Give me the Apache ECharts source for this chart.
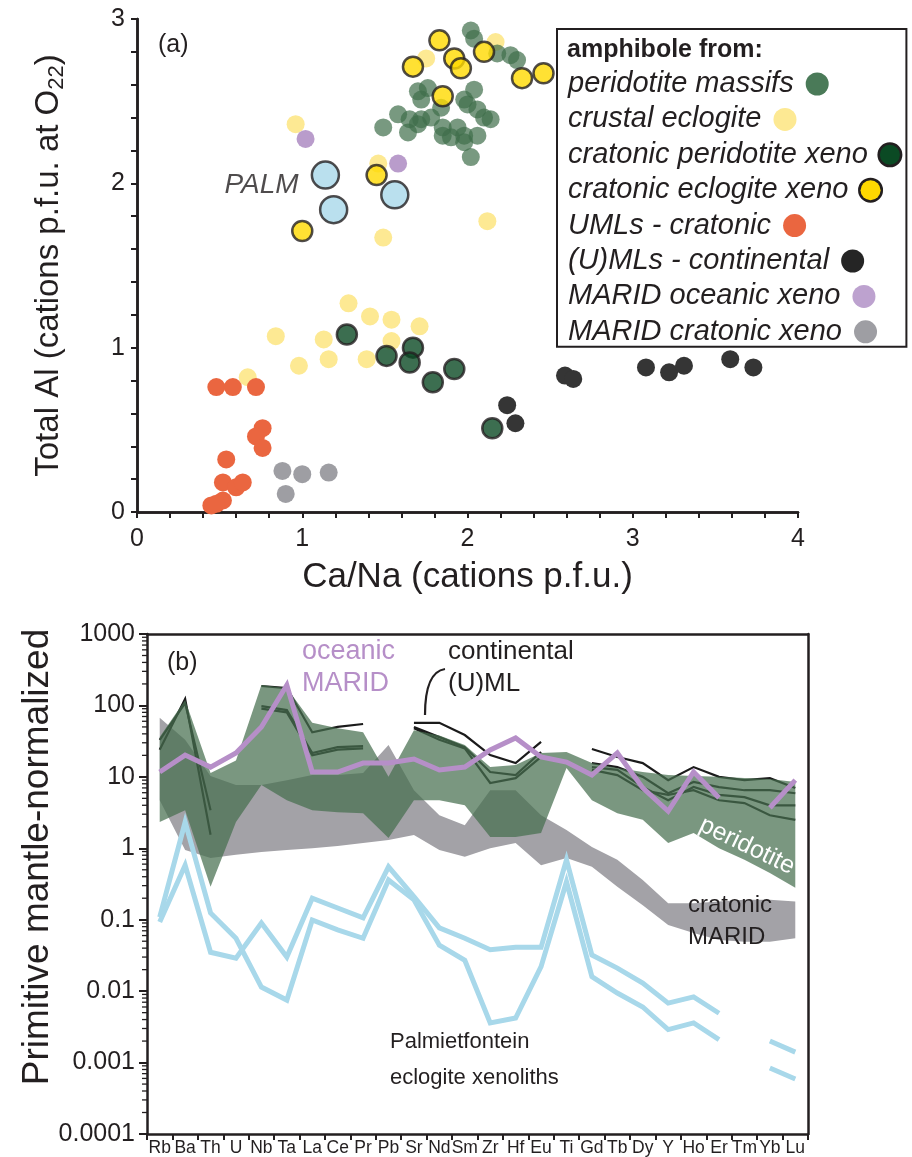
<!DOCTYPE html>
<html>
<head>
<meta charset="utf-8">
<script src="https://cdn.jsdelivr.net/npm/echarts@6/dist/echarts.min.js"></script>
<style>
  html, body { margin: 0; padding: 0; background: #fff; }
  #chart { width: 912px; height: 1157px; }
</style>
</head>
<body>
<div id="chart"></div>
<script>
// ---------- (a) amphibole Ca/Na vs total Al ----------
const peridotiteMassifs = [[2.02,2.93],[2.04,2.88],[2.18,2.79],[2.26,2.78],[2.30,2.75],[1.70,2.56],[1.76,2.58],[1.72,2.51],[2.04,2.57],[1.98,2.51],[2.00,2.48],[2.06,2.45],[2.10,2.40],[2.14,2.39],[1.58,2.42],[1.65,2.39],[1.72,2.39],[1.78,2.40],[1.84,2.46],[1.49,2.34],[1.64,2.31],[1.85,2.34],[1.94,2.34],[1.90,2.28],[1.98,2.29],[2.06,2.29],[1.98,2.25],[2.02,2.16],[1.85,2.29],[1.70,2.36]];
const crustalEclogite = [[1.75,2.76],[2.17,2.86],[0.96,2.36],[1.46,2.12],[2.12,1.77],[1.49,1.67],[1.28,1.27],[1.41,1.19],[1.54,1.17],[1.71,1.13],[0.84,1.07],[1.13,1.05],[1.54,1.04],[1.16,0.93],[0.98,0.89],[1.39,0.93],[0.67,0.82]];
const cratonicPeridotiteXeno = [[1.27,1.08],[1.51,0.95],[1.67,1.00],[1.65,0.91],[1.79,0.79],[1.92,0.87],[2.15,0.51]];
const cratonicEclogiteXeno = [[1.83,2.87],[1.92,2.76],[1.96,2.70],[1.67,2.71],[2.10,2.80],[2.33,2.64],[2.46,2.67],[1.85,2.53],[1.45,2.05],[1.00,1.71]];
const umlsCratonic = [[0.48,0.76],[0.58,0.76],[0.72,0.76],[0.76,0.51],[0.72,0.46],[0.76,0.39],[0.54,0.32],[0.52,0.18],[0.60,0.15],[0.64,0.18],[0.52,0.07],[0.45,0.04],[0.48,0.05]];
const umlsContinental = [[2.24,0.65],[2.29,0.54],[2.59,0.83],[2.64,0.81],[3.08,0.88],[3.22,0.85],[3.31,0.89],[3.59,0.93],[3.73,0.88]];
const maridOceanicXeno = [[1.02,2.27],[1.58,2.12]];
const maridCratonicXeno = [[0.88,0.25],[1.00,0.23],[1.16,0.24],[0.90,0.11]];
const palmEclogite = [[1.14,2.05],[1.19,1.84],[1.56,1.93]];

// ---------- (b) primitive-mantle-normalised trace elements ----------
const elements = ['Rb','Ba','Th','U','Nb','Ta','La','Ce','Pr','Pb','Sr','Nd','Sm','Zr','Hf','Eu','Ti','Gd','Tb','Dy','Y','Ho','Er','Tm','Yb','Lu'];
const yTickValues = [0.0001, 0.001, 0.01, 0.1, 1, 10, 100, 1000];

const peridotiteUpper = [36,119,11.3,17,193,175,57,48,42,10,45,38,28,13.7,14.7,21.6,22.3,15.6,13.3,11.7,10.6,10.3,10,9.6,9.3,8.5];
const peridotiteLower = [2.33,3.4,0.29,2.33,7.7,4.7,3.4,3.2,3.1,1.39,4.7,4.7,4.0,1.44,1.44,1.64,13.3,4.7,3.1,2.5,1.19,1.64,1.0,0.69,0.45,0.28];
const cratonicMaridUpper = [67,33,10.3,7.7,7.7,9.0,10.6,10.6,11.3,28,6.5,2.9,2.1,6.5,6.5,2.9,1.8,1.04,0.69,0.36,0.17,0.17,0.18,0.19,0.19,0.18];
const cratonicMaridLower = [4.7,0.95,0.73,0.81,0.89,0.95,1.0,1.08,1.19,1.31,1.53,0.95,0.76,1.0,1.19,0.58,0.73,0.55,0.29,0.16,0.084,0.065,0.052,0.049,0.049,0.055];

const oceanicMarid = [11.7,20.2,13.7,21.6,50,193,11.7,11.7,15.6,15.6,17.8,12.5,13.7,23.8,35,19,16.1,10.6,21.6,7.0,3.3,11.7,5.1,null,3.7,9.0];

const continentalUml = [
  [24,123,1.55,null,187,175,42,50,55,null,57,57,38.5,20.2,15.6,30.8,null,24.5,19,15.6,9.0,13.7,10,9,9.6,7.0],
  [33,108,3.4,null,98,86,21.6,26,27,null,50,36,26,11.7,10.6,22.3,null,15.6,13.7,10,5.9,8.5,7.2,6.5,6.5,5.9],
  [null,null,null,null,90,80,20,24,25,null,48,33,25,8.2,9.6,19,null,13.7,12.5,7.2,4.7,7.2,5.6,5.2,4.0,4.0],
  [null,null,null,null,null,null,null,null,null,null,null,null,null,null,null,null,null,12.5,10.6,6.5,5.6,6.5,4.7,4.3,2.9,2.5]
];

const palmietfontein = [
  [0.109,2.33,0.124,0.055,0.0114,0.0075,0.099,0.072,0.055,0.36,0.19,0.044,0.027,0.0036,0.0042,0.022,0.34,0.016,0.0094,0.006,0.0029,0.0036,0.0021,null,0.00084,0.00059],
  [0.093,0.58,0.035,0.029,0.090,0.030,0.20,0.146,0.106,0.55,0.21,0.077,0.055,0.038,0.041,0.041,0.69,0.032,0.021,0.013,0.0068,0.0083,0.0049,null,0.0020,0.0014]
];

const FONT = '"Liberation Sans", Arial, Helvetica, sans-serif';
const INK = '#231f20';

// element labels use a narrow face when it is installed
function hasFont(name) {
  const ctx = document.createElement('canvas').getContext('2d');
  ctx.font = '40px monospace';
  const a = ctx.measureText('RbBaThNbTaLaCe').width;
  ctx.font = '40px "' + name + '", monospace';
  return Math.abs(ctx.measureText('RbBaThNbTaLaCe').width - a) > 0.5;
}
const narrow = hasFont('Liberation Sans Narrow');
const elementLabelFont = narrow
  ? { fontFamily: '"Liberation Sans Narrow", sans-serif', fontSize: 20 }
  : { fontFamily: FONT, fontSize: 17.5 };

const chart = echarts.init(document.getElementById('chart'), null, { renderer: 'canvas' });

function scatter(name, data, color, opts = {}) {
  return Object.assign({
    name, type: 'scatter', xAxisIndex: 0, yAxisIndex: 0, data,
    symbol: 'circle', symbolSize: 18,
    itemStyle: { color, opacity: 1 },
    emphasis: { disabled: true }
  }, opts);
}

// filled envelope between an upper and lower curve, drawn on the log axis
function envelope(name, upper, lower, fill, opacity, z) {
  return {
    name, type: 'custom', xAxisIndex: 2, yAxisIndex: 2, z, silent: true, clip: true,
    data: [[0, upper[0]]],
    renderItem(params, api) {
      const pts = [];
      for (let i = 0; i < upper.length; i++) pts.push(api.coord([i, upper[i]]));
      for (let i = lower.length - 1; i >= 0; i--) pts.push(api.coord([i, lower[i]]));
      return { type: 'polygon', shape: { points: pts }, style: { fill, opacity } };
    }
  };
}

function profile(name, data, color, width, z) {
  return {
    name, type: 'line', xAxisIndex: 2, yAxisIndex: 2, data, z,
    symbol: 'none', connectNulls: false, silent: true,
    lineStyle: { color, width, join: 'miter', cap: 'butt' }
  };
}

// log minor ticks (2..9 within each decade) on the left axis
const minorTickValues = [];
for (let e = -4; e < 3; e++) for (let k = 2; k <= 9; k++) minorTickValues.push(k * Math.pow(10, e));

const symbolStyles = {
  'peridotite massifs': { color: '#4a7a58' },
  'crustal eclogite': { color: '#fde993' },
  'cratonic peridotite xeno': { color: '#0b4a24', border: true },
  'cratonic eclogite xeno': { color: '#ffd900', border: true },
  'UMLs - cratonic': { color: '#ea6640' },
  '(U)MLs - continental': { color: '#252525' },
  'MARID oceanic xeno': { color: '#bda2cf' },
  'MARID cratonic xeno': { color: '#9e9ea3' }
};
const legendNames = Object.keys(symbolStyles);
const legendRich = { s: { width: 4, lineHeight: 30 } };
legendNames.forEach((n, i) => {
  const s = symbolStyles[n];
  legendRich['d' + i] = {
    width: s.border ? 20 : 23, height: s.border ? 20 : 23, borderRadius: 12,
    backgroundColor: s.color,
    borderColor: s.border ? INK : 'transparent', borderWidth: s.border ? 2.5 : 0,
    lineHeight: 30
  };
});

const series = [
  scatter('crustal eclogite', crustalEclogite, '#fde993', { z: 2 }),
  scatter('peridotite massifs', peridotiteMassifs, '#3f6e4a', { z: 3, itemStyle: { color: '#3f6e4a', opacity: 0.7 } }),
  scatter('UMLs - cratonic', umlsCratonic, '#ea6640', { z: 3 }),
  scatter('(U)MLs - continental', umlsContinental, '#353535', { z: 3 }),
  scatter('MARID oceanic xeno', maridOceanicXeno, '#b99ccb', { z: 3 }),
  scatter('MARID cratonic xeno', maridCratonicXeno, '#9e9ea3', { z: 3 }),
  scatter('cratonic peridotite xeno', cratonicPeridotiteXeno, '#0b4a24', { z: 4, symbolSize: 20, itemStyle: { color: '#0b4a24', borderColor: INK, borderWidth: 2.5 } }),
  scatter('cratonic eclogite xeno', cratonicEclogiteXeno, '#ffd900', { z: 4, symbolSize: 20, itemStyle: { color: '#ffd900', borderColor: INK, borderWidth: 2.5 } }),
  scatter('PALM', palmEclogite, '#a9d8ea', {
    z: 4, symbolSize: 27, itemStyle: { color: '#a9d8ea', borderColor: INK, borderWidth: 2.5 },
    label: {
      show: true, position: 'left', distance: 12, offset: [0, 10],
      formatter: p => (p.dataIndex === 0 ? 'PALM' : ''),
      fontFamily: FONT, fontSize: 28, fontStyle: 'italic', color: INK
    }
  }),

  envelope('cratonic MARID', cratonicMaridUpper, cratonicMaridLower, '#a3a2a7', 1, 1),
  ...continentalUml.map((d, i) => profile('continental (U)ML ' + (i + 1), d, '#1b1b1b', 2.2, 2)),
  envelope('peridotite', peridotiteUpper, peridotiteLower, '#466f4f', 0.72, 3),
  profile('oceanic MARID', oceanicMarid, '#b68fc8', 5, 4),
  ...palmietfontein.map((d, i) => profile('Palmietfontein ' + (i + 1), d, '#a8d8ea', 5, 5)),
  {
    name: 'minor ticks', type: 'custom', xAxisIndex: 2, yAxisIndex: 2, z: 6, silent: true, clip: false,
    data: [[0, 1]],
    renderItem(params, api) {
      const children = [];
      for (const v of minorTickValues) {
        const p = api.coord([0, v]);
        const q = api.coord([1, v]);
        const x0 = p[0] - (q[0] - p[0]) / 2;
        children.push({ type: 'line', shape: { x1: x0 - 5, y1: p[1], x2: x0, y2: p[1] }, style: { stroke: INK, lineWidth: 1.3 } });
      }
      return { type: 'group', children };
    }
  }
];

const frameLine = { show: true, lineStyle: { color: INK, width: 2.5 } };
const hiddenAxisParts = { axisTick: { show: false }, axisLabel: { show: false }, splitLine: { show: false } };

const option = {
  backgroundColor: '#fff',
  animation: false,
  textStyle: { fontFamily: FONT },
  grid: [
    { left: 137, top: 19, width: 661, height: 493 },
    { left: 147, top: 634, width: 661, height: 500 }
  ],
  xAxis: [
    {
      type: 'value', gridIndex: 0, min: 0, max: 4, interval: 1,
      name: 'Ca/Na (cations p.f.u.)', nameLocation: 'middle', nameGap: 48,
      nameTextStyle: { fontSize: 35, color: INK, fontFamily: FONT },
      axisLine: frameLine,
      axisTick: { show: true, inside: false, length: 6, lineStyle: { color: INK, width: 2 } },
      minorTick: { show: true, splitNumber: 5, length: 6, lineStyle: { color: INK, width: 2 } },
      axisLabel: { fontSize: 25, color: INK, margin: 15, fontFamily: FONT },
      splitLine: { show: false }
    },
    { type: 'value', gridIndex: 0, position: 'top', min: 0, max: 4, axisLine: frameLine, ...hiddenAxisParts },
    {
      type: 'category', gridIndex: 1, data: elements, boundaryGap: true,
      axisLine: frameLine,
      axisTick: { show: true, inside: false, length: 6, alignWithLabel: false, lineStyle: { color: INK, width: 2 } },
      axisLabel: Object.assign({ interval: 0, color: INK, margin: 5 }, elementLabelFont),
      splitLine: { show: false }
    },
    { type: 'category', gridIndex: 1, position: 'top', data: elements, axisLine: frameLine, ...hiddenAxisParts }
  ],
  yAxis: [
    {
      type: 'value', gridIndex: 0, min: 0, max: 3, interval: 1,
      name: 'Total Al (cations p.f.u. at O{sub|22})', nameLocation: 'middle', nameGap: 69, nameRotate: 90,
      nameTextStyle: {
        fontSize: 33, color: INK, fontFamily: FONT,
        rich: { sub: { fontSize: 22, color: INK, fontFamily: FONT, padding: [16, 0, 0, 0] } }
      },
      axisLine: frameLine,
      axisTick: { show: true, inside: false, length: 6, lineStyle: { color: INK, width: 2 } },
      minorTick: { show: true, splitNumber: 5, length: 6, lineStyle: { color: INK, width: 2 } },
      axisLabel: { fontSize: 25, color: INK, margin: 12, fontFamily: FONT },
      splitLine: { show: false }
    },
    { type: 'value', gridIndex: 0, position: 'right', min: 0, max: 3, axisLine: frameLine, ...hiddenAxisParts },
    {
      type: 'log', gridIndex: 1, logBase: 10, min: yTickValues[0], max: yTickValues[yTickValues.length - 1], splitNumber: 7,
      axisLine: frameLine,
      axisTick: { show: true, inside: false, length: 8, lineStyle: { color: INK, width: 2 } },
      axisLabel: {
        fontSize: 25, color: INK, margin: 12, fontFamily: FONT,
        formatter: v => String(Number(Number(v).toPrecision(1)))
      },
      splitLine: { show: false }
    },
    { type: 'value', gridIndex: 1, position: 'right', min: 0, max: 1, axisLine: frameLine, ...hiddenAxisParts }
  ],
  legend: {
    orient: 'vertical', left: 557, top: 29, align: 'left',
    padding: [40, 4, 0, 5], itemGap: 5.4, itemWidth: 0, itemHeight: 0, icon: 'rect',
    backgroundColor: '#fff', borderColor: INK, borderWidth: 2, borderRadius: 0,
    selectedMode: false, z: 10,
    textStyle: { fontSize: 29, fontStyle: 'italic', color: INK, fontFamily: FONT, lineHeight: 30, rich: legendRich },
    formatter: name => name + ' {s|}{d' + legendNames.indexOf(name) + '| }',
    data: legendNames
  },
  graphic: [
    { type: 'text', z: 20, x: 567, y: 50, style: { text: 'amphibole from:', font: 'bold 25px ' + FONT, fill: INK, textVerticalAlign: 'middle' } },
    { type: 'text', z: 20, x: 158, y: 45, style: { text: '(a)', font: '25px ' + FONT, fill: INK, textVerticalAlign: 'middle' } },
    { type: 'text', z: 20, x: 38, y: 857, rotation: Math.PI / 2, style: { text: 'Primitive mantle-normalized', font: '37px ' + FONT, fill: INK, textAlign: 'center', textVerticalAlign: 'middle' } },
    { type: 'text', z: 20, x: 167, y: 663, style: { text: '(b)', font: '25px ' + FONT, fill: INK, textVerticalAlign: 'middle' } },
    { type: 'text', z: 20, x: 302, y: 652, style: { text: 'oceanic', font: '27px ' + FONT, fill: '#b68fc8', textVerticalAlign: 'middle' } },
    { type: 'text', z: 20, x: 302, y: 684, style: { text: 'MARID', font: '27px ' + FONT, fill: '#b68fc8', textVerticalAlign: 'middle' } },
    { type: 'text', z: 20, x: 448, y: 652, style: { text: 'continental', font: '26px ' + FONT, fill: INK, textVerticalAlign: 'middle' } },
    { type: 'text', z: 20, x: 448, y: 684, style: { text: '(U)ML', font: '26px ' + FONT, fill: INK, textVerticalAlign: 'middle' } },
    { type: 'bezierCurve', z: 20, shape: { x1: 425, y1: 715, cpx1: 425, cpy1: 672, x2: 445, y2: 669 }, style: { fill: 'none', stroke: INK, lineWidth: 2.2 } },
    { type: 'text', z: 20, x: 747, y: 846, rotation: -0.45, style: { text: 'peridotite', font: '25px ' + FONT, fill: '#ffffff', textAlign: 'center', textVerticalAlign: 'middle' } },
    { type: 'text', z: 20, x: 688, y: 905, style: { text: 'cratonic', font: '24px ' + FONT, fill: INK, textVerticalAlign: 'middle' } },
    { type: 'text', z: 20, x: 688, y: 937, style: { text: 'MARID', font: '24px ' + FONT, fill: INK, textVerticalAlign: 'middle' } },
    { type: 'text', z: 20, x: 390, y: 1042, style: { text: 'Palmietfontein', font: '22px ' + FONT, fill: INK, textVerticalAlign: 'middle' } },
    { type: 'text', z: 20, x: 390, y: 1078, style: { text: 'eclogite xenoliths', font: '22px ' + FONT, fill: INK, textVerticalAlign: 'middle' } }
  ],
  series
};

chart.setOption(option);
</script>
</body>
</html>
